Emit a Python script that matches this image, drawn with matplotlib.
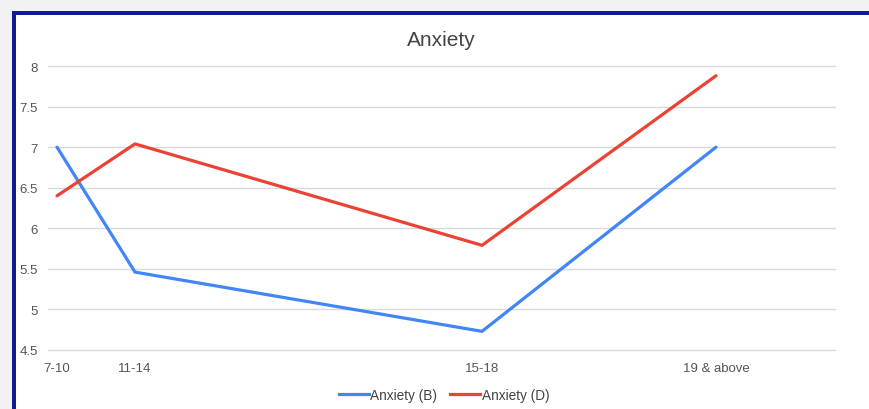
import matplotlib
matplotlib.use("Agg")
import matplotlib.pyplot as plt
from matplotlib.patches import Rectangle
from matplotlib.lines import Line2D

# Age groups, their positions along the x axis, and the two series
age_groups = ["7-10", "11-14", "15-18", "19 & above"]
age_pos = [9, 87, 434, 668]
anxiety_b = [7.0, 5.46, 4.73, 7.0]
anxiety_d = [6.40, 7.04, 5.79, 7.88]
y_ticks = [4.5, 5, 5.5, 6, 6.5, 7, 7.5, 8]
y_tick_labels = ["4.5", "5", "5.5", "6", "6.5", "7", "7.5", "8"]

plt.rcParams["font.family"] = ["Liberation Sans", "DejaVu Sans"]

W, H = 869, 410
fig = plt.figure(figsize=(W / 100, H / 100), dpi=100)
fig.patch.set_facecolor("white")

# Page background and the dark frame around the chart
fig.patches.append(Rectangle((0, 0), 1, 1, transform=fig.transFigure,
                             facecolor="#f2f2f2", edgecolor="none", zorder=-3))
fig.patches.append(Rectangle((12 / W, -1), 2, (H - 12) / H + 1, transform=fig.transFigure,
                             facecolor="#101b8f", edgecolor="none", zorder=-2))
fig.patches.append(Rectangle((16 / W, -1), 2, (H - 16) / H + 1, transform=fig.transFigure,
                             facecolor="white", edgecolor="none", zorder=-1))

ax = fig.add_axes([48 / W, 1 - 351 / H, (835 - 48) / W, (351 - 67) / H])
ax.set_facecolor("none")

blue = "#4285f4"
red = "#ea4335"
ax.plot(age_pos, anxiety_b, color=blue, lw=2.3, solid_capstyle="round",
        solid_joinstyle="round", zorder=3, label="Anxiety (B)")
ax.plot(age_pos, anxiety_d, color=red, lw=2.3, solid_capstyle="round",
        solid_joinstyle="round", zorder=3, label="Anxiety (D)")

ax.set_xlim(0, 787)
ax.set_ylim(4.5, 8)
ax.set_yticks(y_ticks)
ax.set_yticklabels(y_tick_labels)
ax.set_xticks(age_pos)
ax.set_xticklabels(age_groups)
ax.grid(axis="y", color="#d9d9d9", lw=1.0)
for gl in ax.get_ygridlines():
    gl.set_clip_on(False)
ax.set_axisbelow(True)
for s in ax.spines.values():
    s.set_visible(False)
ax.tick_params(axis="both", length=0, labelsize=9.5, labelcolor="#555555")
ax.tick_params(axis="y", pad=7.5)
ax.tick_params(axis="x", pad=9)

fig.text(441 / W, 1 - 40 / H, "Anxiety", ha="center", va="center",
         fontsize=15, color="#444444")

handles = [Line2D([], [], color=blue, lw=2.3), Line2D([], [], color=red, lw=2.3)]
fig.legend(handles, ["Anxiety (B)", "Anxiety (D)"], loc="center",
           bbox_to_anchor=(444 / W, 1 - 396 / H), ncol=2, frameon=False,
           fontsize=9.8, labelcolor="#444444", handlelength=2.2,
           handletextpad=0.1, columnspacing=1.0)

fig.savefig("out.png", dpi=100)
